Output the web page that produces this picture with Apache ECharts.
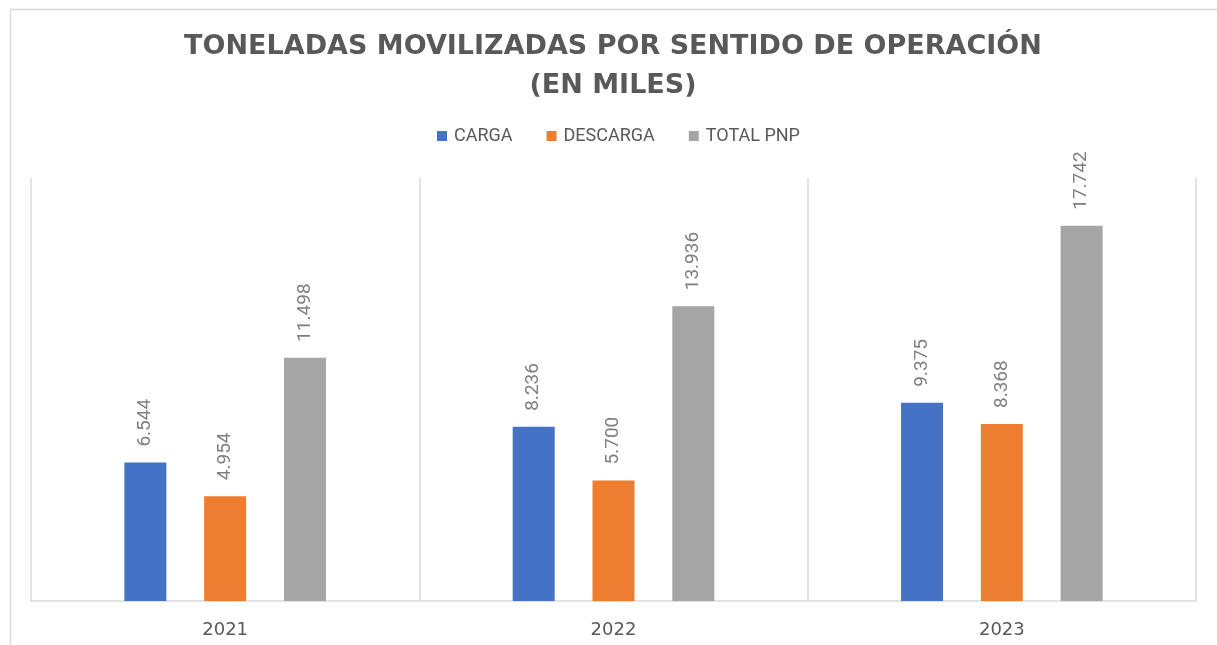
<!DOCTYPE html>
<html>
<head>
<meta charset="utf-8">
<script src="https://cdn.jsdelivr.net/npm/echarts@6/dist/echarts.min.js"></script>
<style>
  html, body { margin: 0; padding: 0; background: #fff; }
  #main { width: 1217px; height: 645px; }
</style>
</head>
<body>
<div id="main"></div>
<script>
var years = ['2021', '2022', '2023'];
var carga = [6.544, 8.236, 9.375];
var descarga = [4.954, 5.700, 8.368];
var totalPnp = [11.498, 13.936, 17.742];
var seriesNames = ['CARGA', 'DESCARGA', 'TOTAL PNP'];
var seriesColors = ['#4472c4', '#ed7d31', '#a5a5a5'];

function fmt(v) {
    // three decimals, as printed on the bars
    return v.toFixed(3);
}

function makeSeries(name, data, color) {
    return {
        name: name,
        type: 'bar',
        data: data,
        barWidth: 42,
        barGap: '90%',
        itemStyle: { color: color },
        label: {
            show: true,
            position: 'top',
            rotate: 90,
            align: 'left',
            verticalAlign: 'middle',
            distance: 16,
            color: '#7f7f7f',
            fontFamily: 'Roboto',
            fontSize: 19,
            formatter: function (p) { return fmt(p.value); }
        }
    };
}

var chart = echarts.init(document.getElementById('main'));
var option = {
    animation: false,
    graphic: [{
        type: 'rect',
        left: 8, top: 7,
        shape: { width: 1300, height: 700 },
        style: { fill: 'none', stroke: '#d9d9d9', lineWidth: 1.5 },
        silent: true
    }],
    title: {
        text: 'TONELADAS MOVILIZADAS POR SENTIDO DE OPERACIÓN\n(EN MILES)',
        left: 608,
        textAlign: 'center',
        top: 22,
        textStyle: {
            fontFamily: 'DejaVu Sans',
            fontWeight: 'bold',
            fontSize: 27,
            lineHeight: 39,
            color: '#595959'
        }
    },
    legend: {
        top: 127,
        left: 437,
        padding: 0,
        itemWidth: 10,
        itemHeight: 10,
        itemGap: 34,
        icon: 'rect',
        textStyle: { fontFamily: 'Roboto', fontSize: 18, color: '#595959', padding: [0, 0, 0, 2] },
        data: seriesNames
    },
    grid: { left: 31, right: 21, top: 178, bottom: 44 },
    xAxis: {
        type: 'category',
        data: years,
        axisLine: { lineStyle: { color: '#d9d9d9', width: 1.5 } },
        axisTick: { show: false },
        splitLine: { show: true, lineStyle: { color: '#d9d9d9', width: 1.5 } },
        axisLabel: {
            margin: 20,
            fontFamily: 'DejaVu Sans',
            fontSize: 18,
            color: '#595959'
        }
    },
    yAxis: {
        type: 'value',
        min: 0,
        max: 20,
        show: false
    },
    series: [
        makeSeries(seriesNames[0], carga, seriesColors[0]),
        makeSeries(seriesNames[1], descarga, seriesColors[1]),
        makeSeries(seriesNames[2], totalPnp, seriesColors[2])
    ]
};
chart.setOption(option);
</script>
</body>
</html>
